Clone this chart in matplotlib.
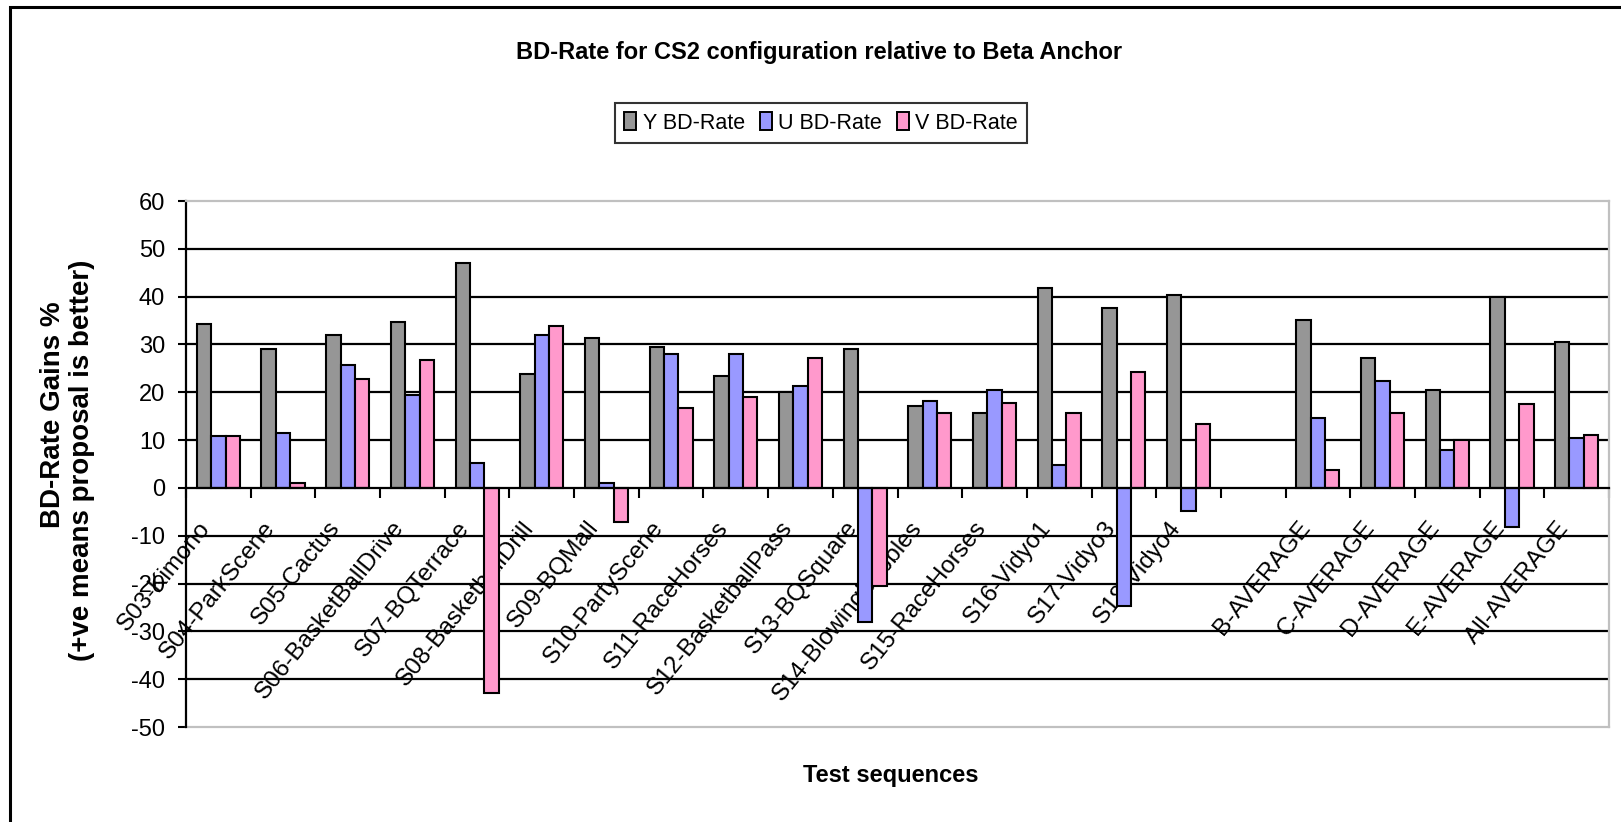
import numpy as np
import matplotlib
matplotlib.use("Agg")
import matplotlib.pyplot as plt
from matplotlib.patches import Rectangle, Patch
from matplotlib.transforms import ScaledTranslation

plt.rcParams['font.family'] = ['Liberation Sans', 'DejaVu Sans']
plt.rcParams['axes.unicode_minus'] = False

categories = ["S03-Kimono", "S04-ParkScene", "S05-Cactus", "S06-BasketBallDrive",
              "S07-BQTerrace", "S08-BasketballDrill", "S09-BQMall", "S10-PartyScene",
              "S11-RaceHorses", "S12-BasketballPass", "S13-BQSquare", "S14-BlowingBubbles",
              "S15-RaceHorses", "S16-Vidyo1", "S17-Vidyo3", "S18-Vidyo4", "",
              "B-AVERAGE", "C-AVERAGE", "D-AVERAGE", "E-AVERAGE", "All-AVERAGE"]
y_bd = [34.3, 29.0, 31.9, 34.8, 47.1, 23.9, 31.4, 29.4, 23.3, 20.1, 29.0, 17.2,
        15.7, 41.9, 37.6, 40.4, np.nan, 35.2, 27.1, 20.4, 40.0, 30.5]
u_bd = [10.9, 11.4, 25.7, 19.5, 5.2, 31.9, 1.0, 28.1, 28.1, 21.4, -28.1, 18.1,
        20.4, 4.7, -24.8, -4.8, np.nan, 14.7, 22.4, 8.0, -8.2, 10.5]
v_bd = [10.9, 1.0, 22.8, 26.7, -42.8, 33.8, -7.1, 16.7, 19.1, 27.1, -20.5, 15.7,
        17.7, 15.7, 24.3, 13.3, np.nan, 3.8, 15.7, 10.0, 17.6, 11.0]
series_names = ["Y BD-Rate", "U BD-Rate", "V BD-Rate"]
series_colors = ["#969696", "#9999FF", "#FF99CC"]
yticks = [-50, -40, -30, -20, -10, 0, 10, 20, 30, 40, 50, 60]

W, H = 1621, 822
fig = plt.figure(figsize=(W / 100, H / 100), dpi=100)
fig.patch.set_facecolor('white')

# outer chart frame (right/bottom edges fall outside the image)
fig.patches.append(Rectangle((10 / W, -0.1), 1.2, 1 - 7 / H + 0.1, transform=fig.transFigure,
                             fill=False, edgecolor='black', lw=2.2))

ax = fig.add_axes([186 / W, (H - 727) / H, 1423 / W, 526 / H])
n = len(categories)
x = np.arange(n) + 0.5
bw = 1 / 4.5
for i, (vals, col, name) in enumerate(zip([y_bd, u_bd, v_bd], series_colors, series_names)):
    ax.bar(x + (i - 1) * bw, vals, width=bw, color=col, edgecolor='black', linewidth=1.5,
           zorder=3, label=name)

ax.set_xlim(0, n)
ax.set_ylim(-50, 60)
for yv in yticks:
    if yv in (-50, 0, 60):
        continue
    ax.axhline(yv, color='black', lw=1.6, zorder=1)

ax.spines['bottom'].set_position(('data', 0))
ax.spines['bottom'].set_linewidth(1.6)
ax.spines['bottom'].set_zorder(4)
ax.spines['left'].set_linewidth(1.6)
for s in ('top', 'right'):
    ax.spines[s].set_color('#C0C0C0')
    ax.spines[s].set_linewidth(1.6)
ax.plot([0, n], [-50, -50], color='#C0C0C0', lw=1.6, clip_on=False, zorder=2)

ax.set_yticks(yticks)
ax.tick_params(axis='y', direction='out', length=6, width=1.5, labelsize=17, pad=9)

ax.set_xticks(x, categories)
ax.set_xticks(np.arange(n + 1), minor=True)
ax.tick_params(axis='x', which='major', length=0, pad=26, labelsize=17.5)
ax.tick_params(axis='x', which='minor', direction='out', length=7, width=1.5)
off = ScaledTranslation(-12 / 100, 0, fig.dpi_scale_trans)
for lab in ax.get_xticklabels():
    lab.set_rotation(51)
    lab.set_ha('right')
    lab.set_va('center')
    lab.set_rotation_mode('anchor')
    lab.set_transform(lab.get_transform() + off)

fig.text(819 / W, 1 - 52 / H, "BD-Rate for CS2 configuration relative to Beta Anchor",
         ha='center', va='center', fontsize=17, fontweight='bold')
fig.text(891 / W, 1 - 775 / H, "Test sequences", ha='center', va='center',
         fontsize=17, fontweight='bold')
fig.text(53 / W, 1 - 415 / H, "BD-Rate Gains %", ha='center', va='center',
         rotation=90, fontsize=20, fontweight='bold')
fig.text(82 / W, 1 - 460 / H, "(+ve means proposal is better)", ha='center', va='center',
         rotation=90, fontsize=20, fontweight='bold')

handles = [Patch(facecolor=c, edgecolor='black', linewidth=1.4) for c in series_colors]
leg = fig.legend(handles, series_names, loc='center', bbox_to_anchor=(821 / W, 1 - 123 / H),
                 ncol=3, fontsize=15.5, frameon=True, fancybox=False, edgecolor='black',
                 handlelength=0.55, handleheight=0.9, handletextpad=0.3, columnspacing=0.7,
                 borderpad=0.45, borderaxespad=0)
leg.get_frame().set_linewidth(1.5)

fig.savefig("out.png", dpi=100)
